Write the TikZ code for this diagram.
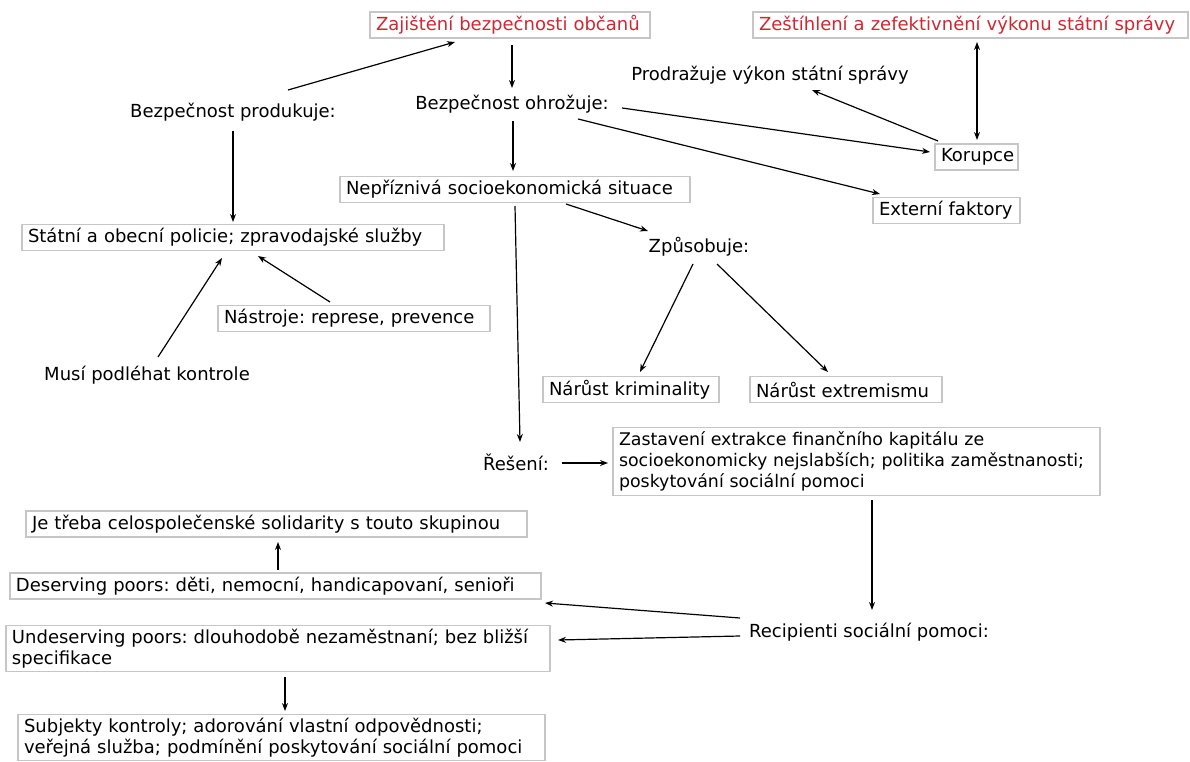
\documentclass[tikz,border=0pt]{standalone}
\usepackage{fontspec}
\setmainfont{DejaVu Sans}
\usetikzlibrary{arrows.meta}
\definecolor{boxgray}{RGB}{198,198,198}
\definecolor{titlered}{RGB}{208,40,50}
\frenchspacing
\begin{document}
\begin{tikzpicture}[x=1pt,y=-1pt,
  every node/.style={font=\frenchspacing\fontsize{18}{21.5}\selectfont, inner sep=0pt},
  box/.style={draw=boxgray, line width=1.5pt, inner xsep=6pt, inner ysep=3pt, align=left, minimum height=26pt},
  plain/.style={},
  redtext/.style={text=titlered},
  conn/.style={line width=1.2pt, -{Stealth[length=8pt,width=6pt]}},
  bconn/.style={line width=1.2pt, {Stealth[length=8pt,width=6pt]}-{Stealth[length=8pt,width=6pt]}}
]
\useasboundingbox (0,0) rectangle (1190,762);
\fill[white] (0,0) rectangle (1190,762);

\node[box, redtext, text width=268pt] (zaj) at (510,25) {Zajištění bezpečnosti občanů};
\node[box, redtext, text width=423pt] (zes) at (970.5,25) {Zeštíhlení a zefektivnění výkonu státní správy};
\node[plain] (prod) at (770,75) {Prodražuje výkon státní správy};
\node[plain] (bp) at (233,112) {Bezpečnost produkuje:};
\node[plain] (bo) at (512,104) {Bezpečnost ohrožuje:};
\node[box, text width=71pt] (kor) at (976.5,157) {Korupce};
\node[box, text width=338pt] (nep) at (515,189.5) {Nepříznivá socioekonomická situace};
\node[box, text width=135pt] (ext) at (946.5,210.5) {Externí faktory};
\node[box, text width=410pt] (sta) at (233,237.5) {Státní a obecní policie; zpravodajské služby};
\node[plain] (zp) at (699,247) {Způsobuje:};
\node[box, text width=260pt] (nas) at (354,318.5) {Nástroje: represe, prevence};
\node[plain] (mus) at (147,375) {Musí podléhat kontrole};
\node[box, text width=164pt] (kri) at (631,389.5) {Nárůst kriminality};
\node[box, text width=180pt] (extr) at (846,389.5) {Nárůst extremismu};
\node[plain] (res) at (516,462) {Řešení:};
\node[box, text width=475pt, inner ysep=4pt, font=\frenchspacing\fontsize{17.4}{21}\selectfont] (zas) at (856.5,461.5) {Zastavení extrakce finančního kapitálu ze\\socioekonomicky nejslabších; politika zaměstnanosti;\\poskytování sociální pomoci};
\node[box, text width=489pt] (je) at (276.5,524) {Je třeba celospolečenské solidarity s touto skupinou};
\node[box, text width=519pt] (des) at (275.5,586) {Deserving poors: děti, nemocní, handicapovaní, senioři};
\node[plain] (rec) at (869,632) {Recipienti sociální pomoci:};
\node[box, text width=532pt] (und) at (278,648.5) {Undeserving poors: dlouhodobě nezaměstnaní; bez bližší\\specifikace};
\node[box, text width=515pt] (sub) at (281.5,737.5) {Subjekty kontroly; adorování vlastní odpovědnosti;\\veřejná služba; podmínění poskytování sociální pomoci};

\draw[conn] ([shift={(55,-22)}]bp.center) -- ([shift={(-55,17)}]zaj.center);
\draw[conn] ([shift={(2,20)}]zaj.center) -- ([shift={(0,-16)}]bo.center);
\draw[conn] ([shift={(110,4)}]bo.center) -- ([shift={(-46.5,-5)}]kor.center);
\draw[conn] ([shift={(66,15)}]bo.center) -- ([shift={(-66.5,-16.5)}]ext.center);
\draw[conn] ([shift={(1,17)}]bo.center) -- ([shift={(-2,-18.5)}]nep.center);
\draw[conn] ([shift={(-38.5,-16)}]kor.center) -- ([shift={(42,15)}]prod.center);
\draw[bconn] ([shift={(6.5,17)}]zes.center) -- ([shift={(0.5,-17)}]kor.center);
\draw[conn] ([shift={(0,19)}]bp.center) -- ([shift={(0,-15.5)}]sta.center);
\draw[conn] ([shift={(-24,-16.5)}]nas.center) -- ([shift={(25,18.5)}]sta.center);
\draw[conn] ([shift={(11,-18)}]mus.center) -- ([shift={(-11,20.5)}]sta.center);
\draw[conn] ([shift={(51,14.5)}]nep.center) -- ([shift={(-51,-16)}]zp.center);
\draw[conn] ([shift={(0,16.5)}]nep.center) -- ([shift={(4,-20)}]res.center);
\draw[conn] ([shift={(-6,17)}]zp.center) -- ([shift={(9,-17.5)}]kri.center);
\draw[conn] ([shift={(18,17)}]zp.center) -- ([shift={(-18,-17.5)}]extr.center);
\draw[conn] ([shift={(46,1)}]res.center) -- ([shift={(-248.5,1.5)}]zas.center);
\draw[conn] ([shift={(15.5,38.5)}]zas.center) -- ([shift={(3,-22)}]rec.center);
\draw[conn] ([shift={(-129,-14)}]rec.center) -- ([shift={(269.5,17)}]des.center);
\draw[conn] ([shift={(-129,4)}]rec.center) -- ([shift={(280,-8.5)}]und.center);
\draw[conn] ([shift={(2.5,-16)}]des.center) -- ([shift={(1.5,18)}]je.center);
\draw[conn] ([shift={(7,28.5)}]und.center) -- ([shift={(3.5,-26.5)}]sub.center);
\end{tikzpicture}
\end{document}
